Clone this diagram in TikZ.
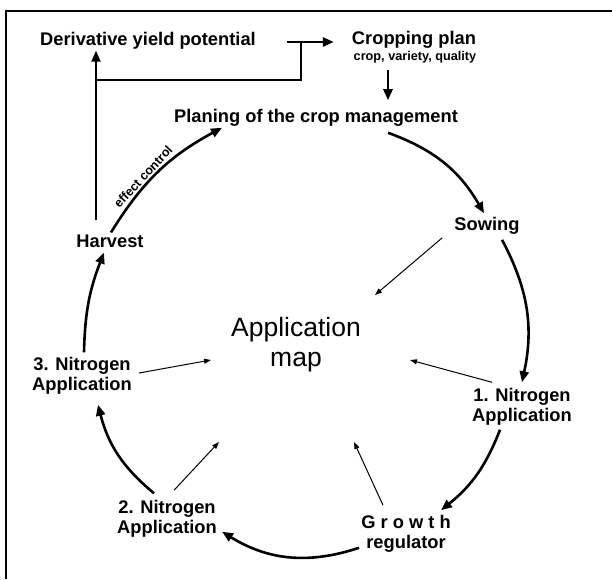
\documentclass[tikz,border=0pt]{standalone}
\usepackage{fontspec}
\setmainfont{Liberation Sans}
\usetikzlibrary{arrows.meta,calc,positioning}

\begin{document}
\begin{tikzpicture}[x=1pt, y=-1pt, >={Triangle[length=11pt,width=9pt]}]
    \tikzset{
        a/.style={->, line width=2.6pt},
        b/.style={-{Triangle[length=7pt,width=5pt]}, line width=1pt},
        ln/.style={line width=2pt},
        lbl/.style={font=\bfseries\fontsize{18.3}{20}\selectfont, align=center, inner sep=1pt}
    }

    \useasboundingbox (0,0) rectangle (612,579);
    \draw [line width=1.6pt] (5.8,579) -- (5.8,10.8) -- (612,10.8);

    % top row
    \node [lbl] (dyp) at (148,41) {Derivative yield potential};
    \node [lbl] (cplan) at (414,40) {Cropping plan};
    \node [lbl, font=\bfseries\fontsize{12.7}{14}\selectfont] (cpsub) at (415,57.5) {crop, variety, quality};

    % the cycle
    \node [lbl] (plan) at (316,118) {Planing of the crop management};
    \node [lbl] (sow) at (487,226) {Sowing};
    \node [lbl] (n1) at (522,407) {1. Nitrogen\\Application};
    \node [lbl] (grow) at (406,534) {G r o w t h\\regulator};
    \node [lbl] (n2) at (167,519) {2. Nitrogen\\Application};
    \node [lbl] (n3) at (82,376) {3. Nitrogen\\Application};
    \node [lbl] (harv) at (110,241) {Harvest};

    \node [font=\fontsize{26.5}{30}\selectfont, align=center] (map) at (296,345) {Application\\map};

    \draw [a] ($(plan.south)+(72,5)$) to [bend left=20] ($(sow.north)+(-3,-3)$);
    \draw [a] ($(sow.south)+(15,4)$) to [bend left=20] ($(n1.north)+(0,-5)$);
    \draw [a] ($(n1.south)+(-22,3)$) to [bend left=15] ($(grow.north)+(35,-4)$);
    \draw [a] ($(grow.south west)+(-1,-6)$) to [bend left=25] ($(n2.south east)+(4,-7)$);
    \draw [a] ($(n2.north)+(-13,-6)$) to [bend left=18] ($(n3.south)+(16,9)$);
    \draw [a] ($(n3.north)+(2,-4)$) to [bend left=10] ($(harv.south)+(-6,4)$);
    \draw [a] ($(harv.north)+(1,-1)$) to [bend left=15] node [pos=0.4, sloped, above, inner sep=1.5pt, font=\bfseries\fontsize{12.5}{13}\selectfont] (eff) {effect control} ($(plan.south)+(-94,0)$);

    % feedback to the top
    \coordinate (hv) at ($(harv.north)+(-14,-13)$);
    \coordinate (fork) at ($(dyp.east)+(44,1)$);
    \draw [->, ln] (hv) -- (hv |- dyp.south);
    \draw [ln] (hv |- 0,80) -| (fork);
    \draw [a] ($(dyp.east)+(30,1)$) -- ($(cplan.west)+(-17,2)$);
    \draw [a] ($(cpsub.south)+(-27,5)$) -- ($(plan.north)+(72,-8)$);

    % into the application map
    \coordinate (m1) at (375,295);
    \coordinate (m2) at (410,360);
    \coordinate (m3) at (354,442);
    \coordinate (m4) at (219,442);
    \coordinate (m5) at (211,360);
    \draw [b] ($(sow.south west)+(-11,2)$) -- (m1);
    \draw [b] ($(n1.north)+(-30,-5)$) -- (m2);
    \draw [b] ($(grow.north)+(-23,-9)$) -- (m3);
    \draw [b] ($(n2.north)+(7,-9)$) -- (m4);
    \draw [b] ($(n3.east)+(6,-3)$) -- (m5);
\end{tikzpicture}
\end{document}
